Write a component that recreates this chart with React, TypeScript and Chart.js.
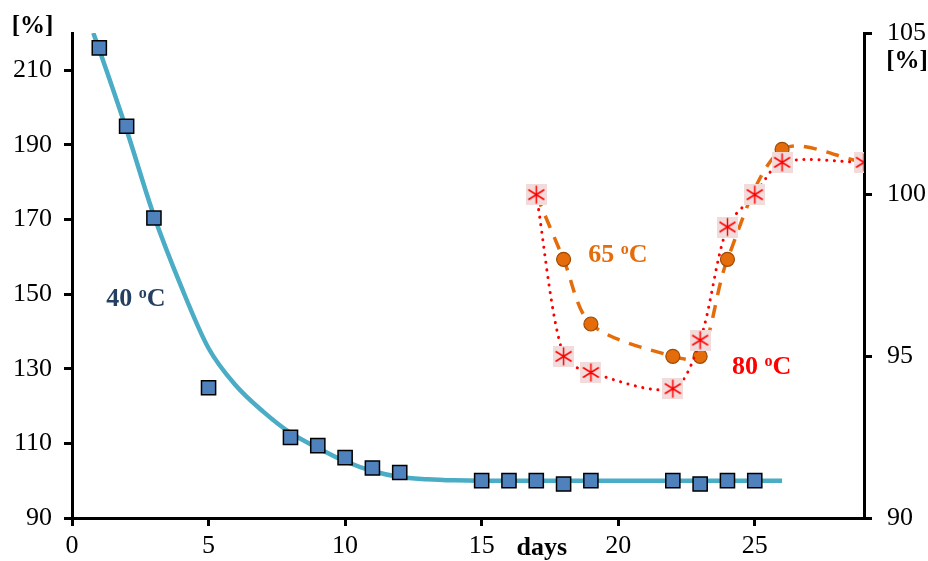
import React, { useEffect, useRef } from "react";
import { Chart, registerables } from "chart.js";
Chart.register(...registerables);

// Fitted curve (40 °C)
const fitDays = [0.78, 1, 2, 3, 4, 5, 6, 7, 8, 9, 10, 11, 12, 13, 14, 15, 18, 22, 26];
const fitValues = [220, 215.5, 194, 171, 152, 135.5, 125.5, 118.5, 112.8, 108.8, 105.2, 102.6, 101.0, 100.4, 100.1, 100, 100, 100, 100];

// 40 °C measurements (left axis)
const days40 = [1, 2, 3, 5, 8, 9, 10, 11, 12, 15, 16, 17, 18, 19, 22, 23, 24, 25];
const values40 = [216, 195, 170.4, 124.9, 111.6, 109.4, 106.2, 103.4, 102.2, 100, 100, 100, 99.1, 100, 100, 99.1, 100, 100];

// 65 °C (right axis)
const days65 = [17, 18, 19, 22, 23, 24, 26, 29];
const values65 = [100, 98, 96, 95, 95, 98, 101.4, 101];

// 80 °C (right axis)
const days80 = [17, 18, 19, 22, 23, 24, 25, 26, 29];
const values80 = [100, 95, 94.5, 94, 95.5, 99, 100, 101, 101];

const xTicks = [0, 5, 10, 15, 20, 25];
const leftTicks = [90, 110, 130, 150, 170, 190, 210];
const rightTicks = [90, 95, 100, 105];

const FONT = "'Liberation Serif'";

function pts(xs: number[], ys: number[]) {
  return xs.map((x, i) => ({ x, y: ys[i] }));
}

function makeStarMarker(): HTMLCanvasElement {
  const c = document.createElement("canvas");
  c.width = 21;
  c.height = 21;
  const g = c.getContext("2d")!;
  g.fillStyle = "#f2dcdb";
  g.fillRect(0, 0, 21, 21);
  g.strokeStyle = "#ff0000";
  g.lineWidth = 1.5;
  g.beginPath();
  g.moveTo(10.5, 1.5);
  g.lineTo(10.5, 19.5);
  g.moveTo(2.5, 5.5);
  g.lineTo(18.5, 15.5);
  g.moveTo(2.5, 15.5);
  g.lineTo(18.5, 5.5);
  g.stroke();
  return c;
}

function drawDegLabel(ctx: CanvasRenderingContext2D, x: number, y: number, num: string, color: string) {
  ctx.save();
  ctx.fillStyle = color;
  ctx.textBaseline = "middle";
  ctx.textAlign = "left";
  ctx.font = `bold 26px ${FONT}`;
  const a = num + " ";
  ctx.fillText(a, x, y);
  let cx = x + ctx.measureText(a).width;
  ctx.font = `bold 16px ${FONT}`;
  ctx.fillText("o", cx, y - 6);
  cx += ctx.measureText("o").width;
  ctx.font = `bold 26px ${FONT}`;
  ctx.fillText("C", cx, y);
  ctx.restore();
}

const textPlugin = {
  id: "texts",
  afterDraw(chart: any) {
    const ctx = chart.ctx as CanvasRenderingContext2D;
    const sx = chart.scales.x;
    const sy = chart.scales.y;
    const sy2 = chart.scales.y2;
    ctx.save();
    ctx.fillStyle = "#000";
    ctx.textBaseline = "middle";
    ctx.textAlign = "center";
    ctx.font = `bold 25px ${FONT}`;
    ctx.fillText("[%]", 32.5, 27);
    ctx.fillText("[%]", 907, 62);
    ctx.font = `bold 26px ${FONT}`;
    ctx.fillText("days", sx.getPixelForValue(17.2), 548);
    ctx.restore();
    drawDegLabel(ctx, sx.getPixelForValue(1.25), sy.getPixelForValue(148.6), "40", "#243f60");
    drawDegLabel(ctx, sx.getPixelForValue(18.9), sy2.getPixelForValue(98.12), "65", "#e46c0a");
    drawDegLabel(ctx, sx.getPixelForValue(24.17), sy2.getPixelForValue(94.65), "80", "#ff0000");
  },
};

export default function App() {
  const ref = useRef<HTMLCanvasElement | null>(null);
  useEffect(() => {
    if (!ref.current) return;
    let chart: Chart | null = null;
    let cancelled = false;
    const build = () => {
      if (cancelled || !ref.current) return;
      const tickFont = { family: FONT, size: 26 };
      const gridCommon = {
        display: true,
        drawOnChartArea: false,
        drawTicks: true,
        tickLength: 8,
        color: "#000",
        lineWidth: 3,
      };
      const border = { display: true, color: "#000", width: 3 };
      const star = makeStarMarker();
      chart = new Chart(ref.current, {
        type: "line",
        data: {
          datasets: [
            {
              label: "fit",
              data: pts(fitDays, fitValues),
              yAxisID: "y",
              borderColor: "#4bacc6",
              borderWidth: 4.5,
              pointRadius: 0,
              cubicInterpolationMode: "monotone",
              order: 5,
            },
            {
              label: "40",
              data: pts(days40, values40),
              yAxisID: "y",
              showLine: false,
              pointStyle: "rect",
              pointRadius: 10,
              backgroundColor: "#4f81bd",
              borderColor: "#000",
              borderWidth: 1.5,
              order: 4,
            },
            {
              label: "65",
              data: pts(days65, values65),
              yAxisID: "y2",
              borderColor: "#e46c0a",
              borderWidth: 3.5,
              borderDash: [13, 10],
              tension: 0.3,
              pointStyle: "circle",
              pointRadius: 7,
              pointBackgroundColor: "#e46c0a",
              pointBorderColor: "#9c4a06",
              pointBorderWidth: 1.2,
              order: 3,
            },
            {
              label: "80",
              data: pts(days80, values80),
              yAxisID: "y2",
              borderColor: "#ff0000",
              borderWidth: 3,
              borderDash: [0.1, 7.5],
              borderCapStyle: "round",
              tension: 0.3,
              pointStyle: star,
              pointRadius: 10,
              order: 1,
            },
          ],
        },
        options: {
          responsive: false,
          animation: false,
          layout: { padding: { top: 33, left: 0, right: 0, bottom: 0 } },
          plugins: {
            legend: { display: false },
            tooltip: { enabled: false },
          },
          scales: {
            x: {
              type: "linear",
              position: "bottom",
              min: 0,
              max: 29,
              afterBuildTicks: (s: any) => {
                s.ticks = xTicks.map((v) => ({ value: v }));
              },
              afterFit: (s: any) => {
                s.height = 43;
              },
              ticks: { font: tickFont, color: "#000", padding: 5, autoSkip: false, maxRotation: 0 },
              grid: gridCommon,
              border,
            },
            y: {
              type: "linear",
              position: "left",
              min: 90,
              max: 220,
              afterBuildTicks: (s: any) => {
                s.ticks = leftTicks.map((v) => ({ value: v }));
              },
              afterFit: (s: any) => {
                s.width = 72;
              },
              ticks: { font: tickFont, color: "#000", padding: 12 },
              grid: gridCommon,
              border,
            },
            y2: {
              type: "linear",
              position: "right",
              min: 90,
              max: 105,
              afterBuildTicks: (s: any) => {
                s.ticks = rightTicks.map((v) => ({ value: v }));
              },
              afterFit: (s: any) => {
                s.width = 64;
              },
              ticks: { font: tickFont, color: "#000", padding: 15 },
              grid: gridCommon,
              border,
            },
          },
        } as any,
        plugins: [textPlugin],
      });
    };
    const fontsApi = (document as any).fonts;
    if (fontsApi && fontsApi.load) {
      Promise.all([
        fontsApi.load(`26px ${FONT}`),
        fontsApi.load(`bold 26px ${FONT}`),
      ])
        .catch(() => null)
        .then(build);
    } else {
      build();
    }
    return () => {
      cancelled = true;
      if (chart) chart.destroy();
    };
  }, []);
  return (
    <div style={{ position: "absolute", left: 0, top: 0, width: 928, height: 561, background: "#fff" }}>
      <canvas ref={ref} width={928} height={561} style={{ display: "block" }} />
    </div>
  );
}
